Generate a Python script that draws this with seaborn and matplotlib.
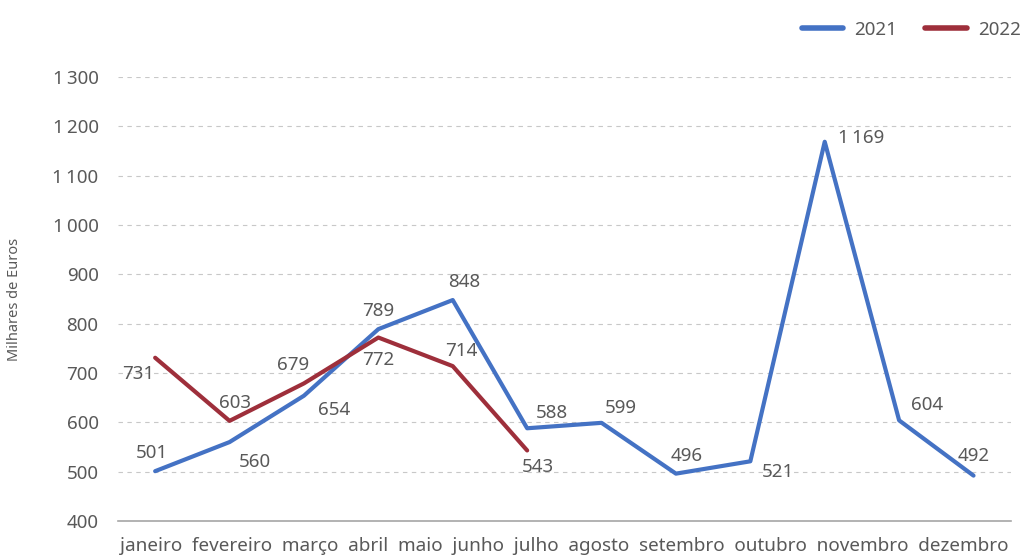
import matplotlib
matplotlib.use("Agg")
import matplotlib.pyplot as plt
import pandas as pd
import seaborn as sns

months = ["janeiro", "fevereiro", "março", "abril", "maio", "junho",
          "julho", "agosto", "setembro", "outubro", "novembro", "dezembro"]
values_2021 = [501, 560, 654, 789, 848, 588, 599, 496, 521, 1169, 604, 492]
values_2022 = [731, 603, 679, 772, 714, 543]
years = ["2021", "2022"]
colors = {"2021": "#4472C4", "2022": "#9E2F3B"}

# label offsets (points) so the numbers sit roughly where the original puts them
offsets_2021 = [(-2, 13), (18, -14), (22, -10), (0, 13), (8, 13), (18, 11),
                (14, 11), (8, 13), (20, -8), (26, 3), (20, 11), (0, 14)]
offsets_2022 = [(-12, -12), (4, 13), (-8, 13), (0, -16), (6, 11), (8, -12)]

sns.set_style("white")
plt.rcParams["font.family"] = ["Noto Sans", "DejaVu Sans"]
txt = "#595959"

df = pd.concat([
    pd.DataFrame({"mes": range(len(values_2021)), "valor": values_2021, "ano": "2021"}),
    pd.DataFrame({"mes": range(len(values_2022)), "valor": values_2022, "ano": "2022"}),
])

fig = plt.figure(figsize=(10.23, 5.55), dpi=100)
ax = fig.add_axes([0.1153, 0.0613, 0.8727, 0.7997])

sns.lineplot(data=df, x="mes", y="valor", hue="ano", hue_order=years,
             palette=colors, linewidth=3, ax=ax, legend=True)

for vals, offs, yr in [(values_2021, offsets_2021, "2021"), (values_2022, offsets_2022, "2022")]:
    for i, (v, off) in enumerate(zip(vals, offs)):
        lab = f"{v:,}".replace(",", "\u2009")
        ax.annotate(lab, (i, v), xytext=off, textcoords="offset points",
                    ha="center", va="center", fontsize=13.5, color=txt)

ax.set_xlim(-0.5, 11.5)
ax.set_ylim(400, 1300)
yt = list(range(400, 1301, 100))
ax.set_yticks(yt)
ax.set_yticklabels([f"{t:,}".replace(",", "\u2009") for t in yt], fontsize=13.5, color=txt)
ax.set_xticks([])
ax.text(0.5, -0.035, "  ".join(months), transform=ax.transAxes, ha="center", va="top",
        fontsize=13.6, color=txt)
ax.tick_params(axis="y", length=0, pad=14)
ax.grid(axis="y", linestyle=(0, (4, 4)), color="#c8c8c8", linewidth=0.8)
for s in ["top", "right", "left"]:
    ax.spines[s].set_visible(False)
ax.spines["bottom"].set_color("#a6a6a6")
ax.spines["bottom"].set_linewidth(1.2)
ax.set_xlabel("")
ax.set_ylabel("Milhares de Euros", fontsize=10.5, color=txt, labelpad=22)

handles, labels = ax.get_legend_handles_labels()
leg = ax.legend(handles, labels, loc="upper right", bbox_to_anchor=(1.03, 1.165),
                ncol=2, frameon=False, fontsize=13.5, handlelength=2.2,
                handletextpad=0.6, columnspacing=1.5)
for t in leg.get_texts():
    t.set_color(txt)
for h in leg.legend_handles:
    h.set_linewidth(4)
    h.set_solid_capstyle("round")

fig.savefig("out.png", dpi=100)
